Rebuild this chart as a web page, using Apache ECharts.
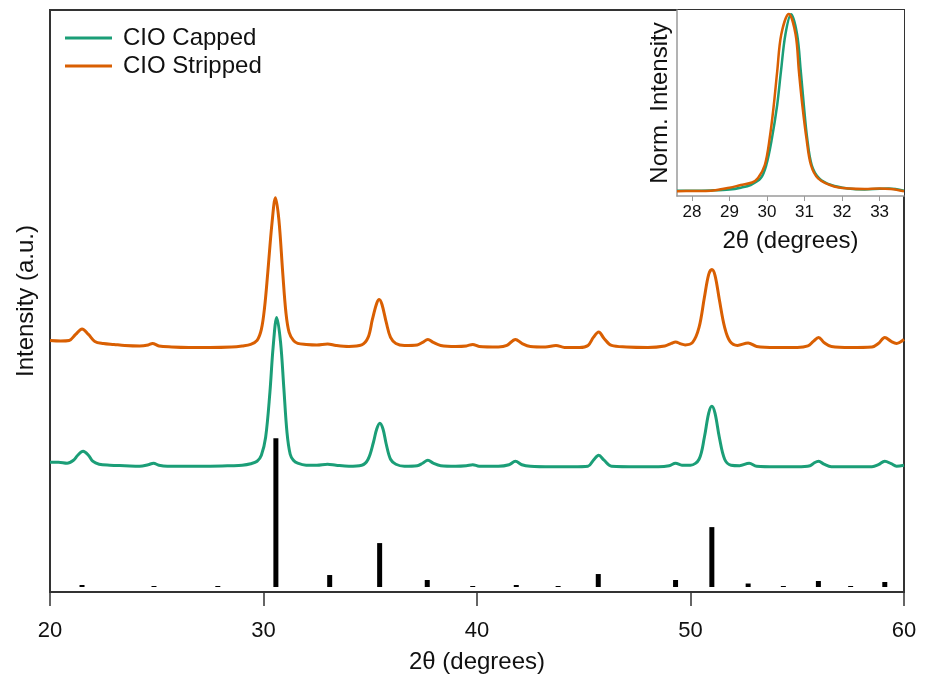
<!DOCTYPE html>
<html>
<head>
<meta charset="utf-8">
<script src="https://cdn.jsdelivr.net/npm/echarts@6/dist/echarts.min.js"></script>
<style>
  html, body { margin: 0; padding: 0; background: #fff; }
  #chart { width: 925px; height: 679px; }
</style>
</head>
<body>
<div id="chart"></div>
<script>
// main pattern, capped sample (2θ, intensity a.u.)
var capX = [20.0, 20.4, 20.8, 21.1, 21.3, 21.55, 21.8, 22.0, 22.3, 22.8, 23.5, 24.2, 24.6, 24.85, 25.1, 25.5, 26.5, 27.5, 28.5, 29.0,
  29.4, 29.7, 29.9, 30.1, 30.3, 30.45, 30.62, 30.8, 30.95, 31.1, 31.25, 31.4, 31.6, 32.0, 32.5, 33.0, 33.4, 34.0, 34.6, 34.9,
  35.15, 35.3, 35.45, 35.6, 35.75, 35.95, 36.2, 36.6, 37.2, 37.45, 37.7, 37.95, 38.3, 39.0, 39.5, 39.8, 40.1, 41.0, 41.5, 41.8,
  42.1, 42.5, 43.5, 44.5, 45.2, 45.45, 45.7, 45.95, 46.3, 47.5, 48.5, 49.0, 49.3, 49.6, 50.0, 50.4, 50.65, 50.85, 51.0, 51.15,
  51.35, 51.6, 51.9, 52.3, 52.75, 53.1, 54.0, 55.0, 55.6, 55.8, 56.0, 56.25, 56.6, 57.5, 58.5, 58.8, 59.1, 59.4, 59.65, 60.0];
var capY = [125, 125, 124, 127, 132, 136, 132, 126, 123, 122, 121.5, 121, 122.5, 124, 122, 121, 121, 121, 121.5, 122,
  123.5, 126, 132, 150, 195, 240, 270, 245, 200, 155, 133, 127, 124, 122, 122, 123, 122, 121, 122, 128,
  145, 158, 164, 158, 143, 128, 123, 121, 121.5, 124, 127, 124, 121.5, 121, 121.5, 122.5, 121, 121, 122.5, 126,
  122.5, 121, 120.5, 120.5, 121, 127, 132, 127, 121, 120.5, 120.5, 121.5, 124, 122, 122, 128, 150, 174, 181, 174,
  150, 128, 122, 121.5, 124, 121, 120.5, 120.5, 121.5, 124.5, 126, 123, 120.5, 120.5, 120.5, 122.5, 126, 123.5, 121, 122];

// main pattern, stripped sample
var strX = [20.0, 20.5, 20.9, 21.2, 21.5, 21.8, 22.1, 22.5, 23.0, 23.5, 24.2, 24.6, 24.8, 25.1, 25.7, 26.5, 27.5, 28.5, 29.0, 29.4,
  29.7, 29.9, 30.05, 30.2, 30.4, 30.56, 30.72, 30.9, 31.05, 31.2, 31.4, 31.6, 32.0, 32.5, 33.0, 33.4, 34.0, 34.6, 34.9, 35.1,
  35.3, 35.42, 35.55, 35.75, 35.95, 36.2, 36.6, 37.2, 37.45, 37.7, 37.95, 38.3, 39.0, 39.5, 39.8, 40.1, 41.0, 41.4, 41.8, 42.1,
  42.5, 43.2, 43.7, 44.1, 44.8, 45.2, 45.45, 45.7, 45.95, 46.3, 47.0, 48.0, 48.8, 49.1, 49.3, 49.55, 49.75, 50.1, 50.4, 50.65,
  50.85, 51.0, 51.15, 51.35, 51.6, 51.85, 52.2, 52.7, 53.1, 54.0, 55.0, 55.5, 55.75, 56.0, 56.25, 56.6, 57.5, 58.5, 58.8, 59.1,
  59.4, 59.65, 60.0];
var strY = [247, 246.5, 247, 253, 258.5, 253, 246, 244, 243, 242, 241.5, 242.5, 244, 241.5, 240.5, 240, 240, 240.5, 241.5, 243,
  247, 258, 280, 315, 365, 390, 368, 315, 275, 255, 247, 244, 243, 242.5, 243.5, 242, 241, 242.5, 250, 268,
  284, 288, 283, 265, 250, 244, 242, 242.5, 245, 248, 245, 242, 241, 241.5, 243, 241, 240.5, 242, 248, 244,
  241, 240.5, 242, 240, 240, 242, 250, 255.5, 249, 242, 240.5, 240, 241.5, 244, 245.5, 243.5, 242.5, 245, 260, 290,
  313, 318, 312, 288, 260, 246, 242, 244.5, 241, 240, 240, 241.5, 246, 250, 245, 241, 240, 240.5, 244, 250,
  246, 244, 248];

// reference stick pattern
var refX = [21.5, 24.87, 27.86, 30.58, 33.1, 35.44, 37.67, 39.8, 41.84, 43.8, 45.68, 49.3, 51.0, 52.7, 54.35, 55.99, 57.5, 59.1];
var refH = [2, 1, 1, 149, 12, 44, 7, 1, 2, 1, 13, 7, 60, 3.5, 1, 6, 1, 5];

// inset, normalised main peak
var insCapX = [27.6, 28.0, 28.5, 29.0, 29.3, 29.56, 29.83, 29.98, 30.13, 30.27, 30.37, 30.49, 30.64, 30.8, 30.9, 30.98, 31.07, 31.19,
  31.39, 31.71, 32.15, 32.6, 33.0, 33.25, 33.65];
var insCapY = [5.3, 5.3, 5.6, 6.5, 8.3, 11, 17.7, 31, 57.7, 91, 124.3, 161.7, 181.7, 161.7, 124.3, 91, 57.7, 31,
  17.7, 11, 7.5, 6.5, 7.2, 7.5, 5.3];
var insStrX = [27.6, 28.0, 28.5, 29.0, 29.3, 29.6, 29.76, 29.94, 30.07, 30.18, 30.27, 30.38, 30.58, 30.76, 30.85, 30.94, 31.05, 31.17,
  31.36, 31.79, 32.2, 32.6, 33.0, 33.3, 33.65];
var insStrY = [4.7, 5, 5.3, 8.3, 11, 13.5, 18, 31, 57.7, 91, 124.3, 161.7, 182, 161.7, 124.3, 91, 57.7, 31,
  17.7, 9.5, 7.5, 7, 7.5, 7, 4.7];

var mainTicks = [20, 30, 40, 50, 60];
var insetTicks = [28, 29, 30, 31, 32, 33];

var green = '#1b9e77';
var orange = '#d95f02';

function pairs(xs, ys) {
  var out = [];
  for (var i = 0; i < xs.length; i++) out.push([xs[i], ys[i]]);
  return out;
}

var chart = echarts.init(document.getElementById('chart'));
var font = 'Liberation Sans, Arial, sans-serif';

chart.setOption({
  animation: false,
  textStyle: { fontFamily: font },
  legend: {
    data: ['CIO Capped', 'CIO Stripped'],
    orient: 'vertical',
    left: 60,
    top: 21,
    icon: 'rect',
    itemWidth: 47,
    itemHeight: 3,
    itemGap: 4,
    textStyle: { fontSize: 24, color: '#111', fontFamily: font, padding: [0, 0, 0, 6], lineHeight: 24 }
  },
  grid: [
    { left: 50, top: 10, width: 854, height: 583, show: true, borderColor: '#333', borderWidth: 2 },
    { left: 677, top: 10, width: 227, height: 186, show: true, backgroundColor: '#fff', borderWidth: 0 }
  ],
  xAxis: [
    {
      gridIndex: 0, type: 'value', min: 20, max: 60, interval: 10,
      name: '2θ (degrees)', nameLocation: 'middle', nameGap: 58,
      nameTextStyle: { fontSize: 24, color: '#111', fontFamily: font },
      axisLine: { onZero: false, lineStyle: { color: '#333', width: 2 } },
      axisTick: { show: true, inside: false, length: 14, lineStyle: { color: '#333', width: 1.5 } },
      axisLabel: { fontSize: 22, color: '#111', margin: 28, fontFamily: font, customValues: mainTicks },
      splitLine: { show: false }
    },
    {
      gridIndex: 1, type: 'value', min: 27.6, max: 33.65,
      name: '2θ (degrees)', nameLocation: 'middle', nameGap: 33,
      nameTextStyle: { fontSize: 24, color: '#111', fontFamily: font },
      axisLine: { onZero: false, lineStyle: { color: '#9a9a9a', width: 1.5 } },
      axisTick: { show: true, length: 5, lineStyle: { color: '#9a9a9a' }, customValues: insetTicks },
      axisLabel: { fontSize: 17, color: '#111', margin: 8, fontFamily: font, customValues: insetTicks },
      splitLine: { show: false }
    }
  ],
  yAxis: [
    {
      gridIndex: 0, type: 'value', min: -5, max: 578,
      name: 'Intensity (a.u.)', nameLocation: 'middle', nameGap: 12, nameRotate: 90,
      nameTextStyle: { fontSize: 24, color: '#111', fontFamily: font },
      axisLine: { show: false }, axisTick: { show: false }, axisLabel: { show: false },
      splitLine: { show: false }
    },
    {
      gridIndex: 1, type: 'value', min: 0, max: 186,
      name: 'Norm. Intensity', nameLocation: 'middle', nameGap: 5, nameRotate: 90,
      nameTextStyle: { fontSize: 24, color: '#111', fontFamily: font },
      axisLine: { show: true, onZero: false, lineStyle: { color: '#9a9a9a', width: 1.5 } },
      axisTick: { show: false }, axisLabel: { show: false },
      splitLine: { show: false }
    }
  ],
  series: [
    {
      name: 'Reference', type: 'bar', xAxisIndex: 0, yAxisIndex: 0,
      barWidth: 5, itemStyle: { color: '#000' },
      data: pairs(refX, refH)
    },
    {
      name: 'CIO Capped', type: 'line', xAxisIndex: 0, yAxisIndex: 0,
      showSymbol: false, smooth: 0.35,
      lineStyle: { color: green, width: 3 }, itemStyle: { color: green },
      data: pairs(capX, capY)
    },
    {
      name: 'CIO Stripped', type: 'line', xAxisIndex: 0, yAxisIndex: 0,
      showSymbol: false, smooth: 0.35,
      lineStyle: { color: orange, width: 3 }, itemStyle: { color: orange },
      data: pairs(strX, strY)
    },
    {
      name: 'CIO Capped', type: 'line', xAxisIndex: 1, yAxisIndex: 1,
      showSymbol: false, smooth: 0.35,
      lineStyle: { color: green, width: 2.5 }, itemStyle: { color: green },
      data: pairs(insCapX, insCapY)
    },
    {
      name: 'CIO Stripped', type: 'line', xAxisIndex: 1, yAxisIndex: 1,
      showSymbol: false, smooth: 0.35,
      lineStyle: { color: orange, width: 2.5 }, itemStyle: { color: orange },
      data: pairs(insStrX, insStrY)
    }
  ]
});
</script>
</body>
</html>
